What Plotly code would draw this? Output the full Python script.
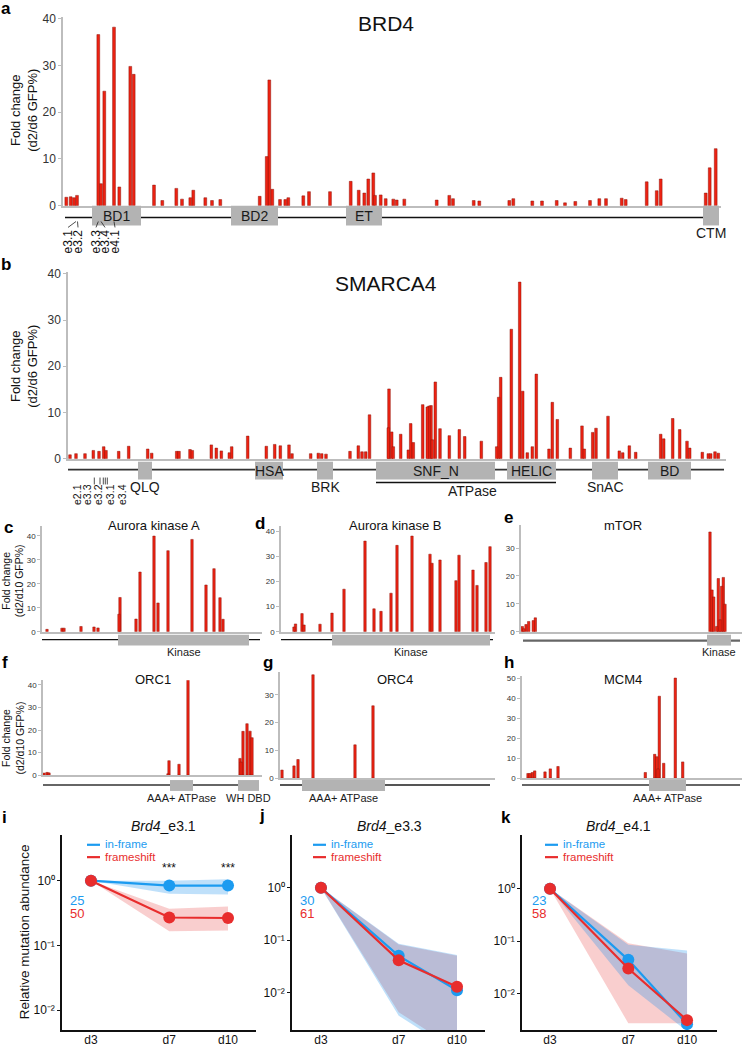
import plotly.graph_objects as go

W, H = 742, 1050
FONT = "Arial, Liberation Sans, Helvetica, sans-serif"

# ======================= DATA =======================
# a: BRD4 (position along protein, fold change d2/d6 GFP%)
brd4_pos = [3.3, 7.7, 11, 14, 35.3, 38, 41.3, 51, 56.3, 67.3, 70.7, 91, 99.3, 113.3, 119, 127.3, 130.3, 142.3, 149, 157.3,
            196.7, 203.7, 206.3, 209.3, 217, 222.3, 225.3, 240.3, 246, 267, 287.7, 295.7, 301.3, 305.3, 310.3, 312, 317.7,
            322.7, 330.3, 333.7, 341.3, 373.7, 386.3, 390, 410.7, 416.3, 446.3, 450.3, 469.3, 479, 493.7, 502, 512.3, 527,
            536.3, 543, 558.7, 562.7, 583.7, 593.7, 597.7, 642.7, 646.7, 652.7]
brd4_fc = [1.8, 1.9, 1.7, 2.2, 36.6, 4.7, 24.5, 38.2, 4.0, 29.8, 28.1, 4.4, 1.1, 3.7, 1.4, 1.7, 3.3, 1.7, 1.1, 1.3,
           2.0, 10.5, 26.9, 3.5, 1.3, 1.3, 1.7, 2.1, 3.0, 3.0, 5.2, 3.3, 2.7, 5.7, 7.0, 2.2, 2.3,
           1.5, 1.4, 1.2, 1.4, 1.2, 2.2, 1.5, 1.1, 1.0, 1.1, 1.5, 1.0, 1.0, 1.1, 0.6, 0.9, 1.1,
           1.5, 1.5, 1.6, 1.3, 5.1, 3.2, 5.7, 2.7, 8.1, 12.2]
brd4_dom_label = ["BD1", "BD2", "ET", "CTM"]
brd4_dom_start = [29, 168, 283, 640]
brd4_dom_end = [78, 215, 319, 656]
brd4_length = [2, 656]
brd4_exon_label = ["e3.1", "e3.2", "e3.3", "e3.4", "e4.1"]
brd4_exon_pos = [5, 15, 33, 42, 52]
brd4_exon_target = [13, 14.5, 35.3, 38, 51]

# b: SMARCA4
smarca4_pos = [2, 8, 17, 25.3, 31, 35.7, 38, 50.7, 60.7, 79.7, 83.7, 108.7, 111, 122, 124.3, 143.3, 148.3, 153.3, 161.3,
               163.7, 179.7, 198.3, 206.7, 212.3, 221, 224, 242.7, 250.3, 253.7, 258, 282, 290.3, 294, 297.7, 301.5,
               320.3, 321, 323.7, 325.3, 332.7, 340.3, 342.7, 345.3, 354.7, 359.3, 361, 363, 364.3, 367.3, 372, 381.3,
               391.3, 396.7, 413.3, 428.7, 430.7, 432.7, 443.3, 451.7, 454.7, 459.3, 464.3, 468.3, 481, 484.3, 489.3,
               502.3, 514, 516.3, 524.7, 528, 540, 551.3, 554.7, 561.3, 567.7, 592.7, 595.7, 604.7, 611.7, 619, 621.7,
               634.3, 640.3, 642.7, 647, 650.3]
smarca4_fc = [0.85, 1.1, 1.1, 1.8, 1.6, 2.6, 1.8, 1.6, 2.7, 2.1, 1.2, 1.6, 1.6, 2.0, 1.8, 3.0, 2.3, 1.7, 1.3,
              2.6, 4.9, 2.7, 3.1, 2.8, 3.0, 1.1, 1.1, 1.2, 1.1, 1.0, 1.6, 2.8, 1.5, 1.5, 9.5,
              6.7, 15.1, 5.8, 2.6, 5.3, 1.9, 7.6, 3.5, 11.7, 11.2, 11.4, 11.5, 4.1, 16.6, 6.5, 5.0,
              6.3, 4.8, 3.8, 2.6, 13.3, 17.6, 28.0, 38.2, 14.6, 1.3, 2.6, 18.3, 2.1, 12.2, 8.5,
              2.3, 7.1, 2.1, 5.7, 6.6, 9.2, 1.7, 1.3, 2.8, 1.4, 5.3, 4.3, 8.7, 6.3, 3.8, 2.3,
              1.4, 1.1, 1.1, 1.5, 1.2]
smarca4_dom_label = ["QLQ", "HSA", "BRK", "SNF_N", "HELIC", "SnAC", "BD"]
smarca4_dom_start = [70, 187, 249, 308, 439, 524, 580]
smarca4_dom_end = [84, 215, 265, 427, 488, 550, 623]
smarca4_dom_inside = [False, True, False, True, True, False, True]
smarca4_length = [0, 656]
smarca4_atpase = [308, 488]
smarca4_atpase_label_pos = 404
smarca4_exon_label = ["e2.1", "e3.3", "e3.2", "e3.1", "e3.4"]
smarca4_exon_pos = [9, 19, 30, 42, 54]
smarca4_exon_tick = [26.3, 32, 35.3, 37.3, 39.3]

# c: Aurora kinase A
aurka_pos = [5, 20, 22, 39, 52, 56, 77, 78, 94, 98, 112, 116, 126, 150, 164, 172, 178, 181]
aurka_fc = [1.0, 1.5, 1.5, 2.2, 2.0, 1.6, 7.3, 14.3, 5.3, 24.9, 39.9, 12.0, 33.8, 38.5, 19.5, 26.3, 14.2, 5.2]
aurka_dom = ["Kinase"]; aurka_dom_start = [76]; aurka_dom_end = [207]; aurka_length = [0, 218]

# d: Aurora kinase B
aurkb_pos = [13, 14.5, 21, 23, 39, 51, 63, 84, 93, 100, 110, 116, 131, 149, 151, 159, 175, 178, 192, 196, 205, 209]
aurkb_fc = [1.9, 3.1, 7.2, 2.7, 3.0, 7.4, 16.9, 36.0, 9.1, 8.1, 15.3, 34.3, 38.0, 30.8, 27.2, 28.5, 20.3, 30.4,
            24.5, 18.4, 27.5, 33.8]
aurkb_dom = ["Kinase"]; aurkb_dom_start = [51]; aurkb_dom_end = [209]; aurkb_length = [0, 212]

# e: mTOR
mtor_pos = [1.3, 2.7, 5, 7.7, 12.3, 14.3, 189, 191, 192.7, 195.7, 197.3, 199, 200.7, 202.3, 204]
mtor_fc = [1.9, 1.1, 2.6, 3.7, 4.0, 5.0, 35.8, 15.0, 12.5, 1.9, 19.1, 4.3, 16.3, 19.5, 9.9]
mtor_dom = ["Kinase"]; mtor_dom_start = [186]; mtor_dom_end = [210]; mtor_length = [2, 219]

# f: ORC1
orc1_pos = [1, 4, 6, 125, 126, 136, 145, 197, 198, 200, 204, 207, 209]
orc1_fc = [0.9, 1.2, 1.0, 0.6, 6.4, 4.8, 43.5, 7.4, 5.8, 19.4, 22.8, 19.5, 16.6]
orc1_dom = ["AAA+ ATPase", "WH DBD"]; orc1_dom_start = [127, 195]; orc1_dom_end = [150, 216]; orc1_length = [0, 216]

# g: ORC4
orc4_pos = [2, 14, 18, 33, 75, 93]
orc4_fc = [2.9, 4.4, 6.7, 37.3, 12.0, 26.1]
orc4_dom = ["AAA+ ATPase"]; orc4_dom_start = [22]; orc4_dom_end = [105]; orc4_length = [0, 210]

# h: MCM4
mcm4_pos = [6, 8, 10.3, 12.7, 23, 28.3, 36, 123.3, 132.7, 134.7, 136, 137.3, 141.7, 153.3, 160.7]
mcm4_fc = [2.3, 2.3, 2.8, 3.6, 3.1, 4.6, 5.8, 2.8, 11.9, 10.7, 4.6, 41.0, 7.4, 50.1, 8.1]
mcm4_dom = ["AAA+ ATPase"]; mcm4_dom_start = [127]; mcm4_dom_end = [164]; mcm4_length = [0, 218]

# i-k: relative mutation abundance
days = [3, 7, 10]
day_labels = ["d3", "d7", "d10"]
log_tickvals = [1, 0.1, 0.01]
log_ticktext = ["10⁰", "10⁻¹", "10⁻²"]
i_inframe = [1.0, 0.84, 0.84]; i_inframe_lo = [1.0, 0.63, 0.61]; i_inframe_hi = [1.0, 1.0, 1.05]
i_fs = [1.0, 0.27, 0.265]; i_fs_lo = [1.0, 0.166, 0.17]; i_fs_hi = [1.0, 0.37, 0.40]
j_inframe = [1.0, 0.050, 0.011]; j_inframe_lo = [1.0, 0.0036, 0.0007]; j_inframe_hi = [1.0, 0.085, 0.052]
j_fs = [1.0, 0.041, 0.0129]; j_fs_lo = [1.0, 0.0042, 0.0008]; j_fs_hi = [1.0, 0.082, 0.050]
k_inframe = [1.0, 0.044, 0.0026]; k_inframe_lo = [1.0, 0.0143, 0.0019]; k_inframe_hi = [1.0, 0.085, 0.066]
k_fs = [1.0, 0.030, 0.0031]; k_fs_lo = [1.0, 0.0027, 0.0027]; k_fs_hi = [1.0, 0.091, 0.058]
n_counts = {"i": ("25", "50"), "j": ("30", "61"), "k": ("23", "58")}

# ======================= STYLE / HELPERS =======================
RED = "rgb(238,34,18)"
RED_EDGE = "rgb(140,20,10)"
AX_GRAY = "#bdbdbd"
BOX_GRAY = "#b3b3b3"
BLUE_L = "rgb(28,155,240)"
RED_L = "rgb(232,45,45)"
BLUE_BAND = "rgba(20,140,235,0.27)"
RED_BAND = "rgba(230,50,50,0.24)"


def fx(p):
    return p / W


def fy(p):
    return 1 - p / H


def ref(n, a):
    return a if n == 1 else f"{a}{n}"


def axname(n, a):
    return f"{a}axis" if n == 1 else f"{a}axis{n}"


fig = go.Figure()
axes = {}
shapes = []
annots = []


def text(x, y, t, size, xref="paper", color="#111", xanchor="center", yanchor="middle", angle=0):
    annots.append(dict(x=x, y=y, xref=xref, yref="paper", text=t, showarrow=False, textangle=angle,
                       xanchor=xanchor, yanchor=yanchor, font=dict(family=FONT, size=size, color=color),
                       borderpad=0))


def bar_panel(n, pos, vals, xpx, xrange, ypx, ytop, tickvals, tfont, bw):
    order = sorted(range(len(vals)), key=lambda i: -vals[i])
    fig.add_trace(go.Bar(x=[pos[i] for i in order], y=[vals[i] for i in order], width=bw,
                         marker=dict(color=RED, line=dict(color=RED_EDGE, width=0.5)),
                         xaxis=ref(n, "x"), yaxis=ref(n, "y"), showlegend=False))
    axes[axname(n, "x")] = dict(domain=[fx(xpx[0]), fx(xpx[1])], range=xrange, anchor=ref(n, "y"),
                                showline=True, linecolor=AX_GRAY, linewidth=1.5, showticklabels=False,
                                ticks="", showgrid=False, zeroline=False)
    axes[axname(n, "y")] = dict(domain=[fy(ypx[1]), fy(ypx[0])], range=[0, ytop], anchor=ref(n, "x"),
                                showline=True, linecolor=AX_GRAY, linewidth=1.5, tickvals=tickvals,
                                ticks="outside", ticklen=3, tickcolor=AX_GRAY, tickwidth=1,
                                tickfont=dict(family=FONT, size=tfont, color="#333"),
                                showgrid=False, zeroline=False)


def track(n, length, line_y, lc, lw, starts, ends, labels, inside, box_y, lfont, below_y):
    xr = ref(n, "x")
    shapes.append(dict(type="line", xref=xr, yref="paper", x0=length[0], x1=length[1], y0=fy(line_y),
                       y1=fy(line_y), line=dict(color=lc, width=lw)))
    for s, e, lab, ins in zip(starts, ends, labels, inside):
        shapes.append(dict(type="rect", xref=xr, yref="paper", x0=s, x1=e, y0=fy(box_y[1]), y1=fy(box_y[0]),
                           fillcolor=BOX_GRAY, line=dict(width=0)))
        yy = (box_y[0] + box_y[1]) / 2 if ins else below_y
        text((s + e) / 2, fy(yy), lab, lfont, xref=xr, color="#1a1a1a")


# ---------------- a: BRD4 ----------------
bar_panel(1, brd4_pos, brd4_fc, [63, 721], [0, 658], [12, 203], 40.4, [0, 10, 20, 30, 40], 12, 2.8)
track(1, brd4_length, 215, "#111", 1.5, brd4_dom_start, brd4_dom_end, brd4_dom_label,
      [True, True, True, False], [203, 223], 14, 231)
for lab, p, t in zip(brd4_exon_label, brd4_exon_pos, brd4_exon_target):
    text(p, fy(226), lab, 12, xref="x", yanchor="top", angle=-90)
    shapes.append(dict(type="line", xref="x", yref="paper", x0=p, x1=t, y0=fy(225), y1=fy(219),
                       line=dict(color="#222", width=0.8)))
text(fx(386), fy(19), "BRD4", 21)
text(fx(24), fy(107), "Fold change<br>(d2/d6 GFP%)", 13, angle=-90)

# ---------------- b: SMARCA4 ----------------
bar_panel(2, smarca4_pos, smarca4_fc, [68, 726], [0, 658], [270, 459], 40.4, [0, 10, 20, 30, 40], 12, 2.6)
track(2, smarca4_length, 470, "#333", 1.8, smarca4_dom_start, smarca4_dom_end, smarca4_dom_label,
      smarca4_dom_inside, [462, 480], 14, 488)
shapes.append(dict(type="line", xref="x2", yref="paper", x0=smarca4_atpase[0], x1=smarca4_atpase[1],
                   y0=fy(483), y1=fy(483), line=dict(color="#111", width=1.5)))
text(smarca4_atpase_label_pos, fy(492), "ATPase", 14, xref="x2", color="#1a1a1a")
for lab, p in zip(smarca4_exon_label, smarca4_exon_pos):
    text(p, fy(484), lab, 10.5, xref="x2", yanchor="top", angle=-90)
for t in smarca4_exon_tick:
    shapes.append(dict(type="line", xref="x2", yref="paper", x0=t, x1=t, y0=fy(485), y1=fy(478),
                       line=dict(color="#222", width=0.8)))
text(fx(386), fy(282), "SMARCA4", 21)
text(fx(24), fy(366), "Fold change<br>(d2/d6 GFP%)", 13, angle=-90)

# ---------------- c-h small panels ----------------
small = [
    (3, aurka_pos, aurka_fc, [42, 262], [0, 220], [527, 634], 44.1, [0, 10, 20, 30, 40], aurka_length, 642,
     "#111", 1.2, aurka_dom_start, aurka_dom_end, aurka_dom, [637, 648], 654, "Aurora kinase A", 154, 527),
    (4, aurkb_pos, aurkb_fc, [281, 495], [0, 214], [527, 634], 42.0, [0, 10, 20, 30, 40], aurkb_length, 642,
     "#111", 1.2, aurkb_dom_start, aurkb_dom_end, aurkb_dom, [637, 648], 654, "Aurora kinase B", 395, 527),
    (5, mtor_pos, mtor_fc, [521, 742], [0, 221], [526, 634], 38.3, [0, 10, 20, 30], mtor_length, 643,
     "#666", 2.2, mtor_dom_start, mtor_dom_end, mtor_dom, [637, 648], 654, "mTOR", 623, 527),
    (6, orc1_pos, orc1_fc, [43, 262], [0, 219], [683, 779], 42.1, [0, 10, 20, 30, 40], orc1_length, 789,
     "#333", 1.5, orc1_dom_start, orc1_dom_end, orc1_dom, [784, 795], 802, "ORC1", 153, 682),
    (7, orc4_pos, orc4_fc, [280, 495], [0, 215], [675, 782], 38.2, [0, 10, 20, 30], orc4_length, 789,
     "#555", 2.0, orc4_dom_start, orc4_dom_end, orc4_dom, [784, 795], 802, "ORC4", 395, 682),
    (8, mcm4_pos, mcm4_fc, [522, 742], [0, 220], [679, 782], 51.0, [0, 10, 20, 30, 40, 50], mcm4_length, 789,
     "#666", 2.2, mcm4_dom_start, mcm4_dom_end, mcm4_dom, [784, 795], 802, "MCM4", 623, 682),
]
for (n, pos, vals, xpx, xr, ypx, ytop, tv, length, ly, lc, lw, ds, de, dl, by, bly, title, tx, ty) in small:
    bar_panel(n, pos, vals, xpx, xr, ypx, ytop, tv, 8, 2.4)
    track(n, length, ly, lc, lw, ds, de, dl, [False] * len(dl), by, 11, bly)
    text(fx(tx), fy(ty), title, 13)
text(fx(13), fy(583), "Fold change<br>(d2/d10 GFP%)", 10.5, angle=-90)
text(fx(13), fy(742), "Fold change<br>(d2/d10 GFP%)", 10.5, angle=-90)


# ---------------- i-k line panels ----------------
def line_panel(n, xpx, xrange, yrange, inf, inf_lo, inf_hi, fs, fs_lo, fs_hi):
    xr, yr = ref(n, "x"), ref(n, "y")
    fig.add_trace(go.Scatter(x=days + days[::-1], y=fs_hi + fs_lo[::-1], fill="toself", fillcolor=RED_BAND,
                             mode="lines", line=dict(width=0), xaxis=xr, yaxis=yr, showlegend=False,
                             hoverinfo="skip"))
    fig.add_trace(go.Scatter(x=days + days[::-1], y=inf_hi + inf_lo[::-1], fill="toself", fillcolor=BLUE_BAND,
                             mode="lines", line=dict(width=0), xaxis=xr, yaxis=yr, showlegend=False,
                             hoverinfo="skip"))
    fig.add_trace(go.Scatter(x=days, y=inf, mode="lines+markers", line=dict(color=BLUE_L, width=2.2),
                             marker=dict(size=12, color=BLUE_L), xaxis=xr, yaxis=yr, showlegend=False,
                             cliponaxis=False, name="in-frame"))
    fig.add_trace(go.Scatter(x=days, y=fs, mode="lines+markers", line=dict(color=RED_L, width=2.2),
                             marker=dict(size=12, color=RED_L), xaxis=xr, yaxis=yr, showlegend=False,
                             cliponaxis=False, name="frameshift"))
    axes[axname(n, "x")] = dict(domain=[fx(xpx[0]), fx(xpx[1])], range=xrange, anchor=yr, showline=True,
                                linecolor="#111", linewidth=1.5, tickvals=days, ticktext=day_labels,
                                ticks="", ticklabelstandoff=-2,
                                tickfont=dict(family=FONT, size=12, color="#111"), showgrid=False, zeroline=False)
    axes[axname(n, "y")] = dict(domain=[fy(1037), fy(840)], type="log", range=yrange, anchor=xr, showline=True,
                                linecolor="#111", linewidth=1.5, tickvals=log_tickvals, ticktext=log_ticktext,
                                ticks="outside", ticklen=3, tickcolor="#111",
                                tickfont=dict(family=FONT, size=12, color="#111"), showgrid=False, zeroline=False)


line_panel(9, [62, 256], [1.52, 11.43], [-2.31, 0.70], i_inframe, i_inframe_lo, i_inframe_hi, i_fs, i_fs_lo, i_fs_hi)
line_panel(10, [292, 485], [1.51, 11.44], [-2.72, 1.0], j_inframe, j_inframe_lo, j_inframe_hi, j_fs, j_fs_lo, j_fs_hi)
line_panel(11, [522, 717], [1.57, 11.53], [-2.70, 1.02], k_inframe, k_inframe_lo, k_inframe_hi, k_fs, k_fs_lo, k_fs_hi)

for key, (tx, leg_x0, num_x) in {"i": (163, 87, 77), "j": (390, 313, 307), "k": (618, 545, 539)}.items():
    gene_title = "<i>Brd4</i>_" + {"i": "e3.1", "j": "e3.3", "k": "e4.1"}[key]
    text(fx(tx), fy(830), gene_title, 14)
    for yy, col, lab in [(849, BLUE_L, "in-frame"), (861.5, RED_L, "frameshift")]:
        shapes.append(dict(type="line", xref="paper", yref="paper", x0=fx(leg_x0), x1=fx(leg_x0 + 13),
                           y0=fy(yy + 0.5), y1=fy(yy + 0.5), line=dict(color=col, width=2.2)))
        text(fx(leg_x0 + 17), fy(yy), lab, 11.5, color=col, xanchor="left")
    n_in, n_fs = n_counts[key]
    text(fx(num_x), fy(906), n_in, 13, color=BLUE_L)
    text(fx(num_x), fy(918.5), n_fs, 13, color=RED_L)

text(7, fy(873), "***", 12, xref="x9")
text(10, fy(873), "***", 12, xref="x9")
text(fx(24), fy(938), "Relative mutation abundance", 13.5, angle=-90)

# ---------------- panel letters ----------------
for lab, x, y in [("a", 0, -7.5), ("b", 0, 251.5), ("c", 3, 517.5), ("d", 254, 513.5), ("e", 503, 507.5),
                  ("f", 1, 654.5), ("g", 262, 654.5), ("h", 503, 654.5), ("i", 1, 811.5), ("j", 258, 809.5),
                  ("k", 500, 811.5)]:
    annots.append(dict(x=fx(x), y=fy(y), xref="paper", yref="paper", text=f"<b>{lab}</b>", showarrow=False,
                       xanchor="left", yanchor="top", font=dict(family=FONT, size=17, color="#000"), borderpad=0))

fig.update_layout(width=W, height=H, margin=dict(l=0, r=0, t=0, b=0), paper_bgcolor="white",
                  plot_bgcolor="white", barmode="overlay", showlegend=False, shapes=shapes, annotations=annots,
                  font=dict(family=FONT), **axes)
fig.write_html("out.html", config={"displayModeBar": False},
               post_script="document.body.style.margin='0';document.body.style.padding='0';")
